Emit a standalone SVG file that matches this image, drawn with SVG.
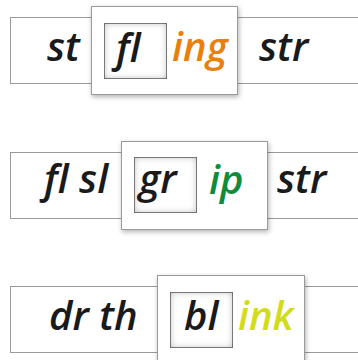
<svg xmlns="http://www.w3.org/2000/svg" width="358" height="360" viewBox="0 0 358 360">
<defs>
<style>
.strip{fill:#fff;stroke:#9a9a9a;stroke-width:1}
.card{fill:#fff;stroke:#9a9a9a;stroke-width:1;filter:url(#drop)}
.slot{fill:#fff;stroke:#8c8c8c;stroke-width:1;filter:url(#inset)}
text{font-family:"Open Sans","DejaVu Sans",sans-serif;font-style:italic;font-weight:600;font-size:40px;fill:#1a1a1a}
.orange{fill:#e8800e}
.green{fill:#0e8c3c}
.lime{fill:#d3dc1a}
</style>
<filter id="drop" x="-10%" y="-10%" width="125%" height="130%">
<feDropShadow dx="1" dy="2" stdDeviation="2.5" flood-color="#000" flood-opacity="0.3"/>
</filter>
<filter id="inset" x="-20%" y="-20%" width="140%" height="140%">
<feFlood flood-color="#000" flood-opacity="0.6" result="f"/>
<feComposite in="f" in2="SourceAlpha" operator="out" result="o"/>
<feGaussianBlur in="o" stdDeviation="3.5" result="b"/>
<feComposite in="b" in2="SourceAlpha" operator="in" result="s"/>
<feMerge><feMergeNode in="SourceGraphic"/><feMergeNode in="s"/></feMerge>
</filter>
</defs>
<g id="row1">
<rect class="strip" x="10.5" y="17.5" width="360" height="66"/>
<text x="47" y="61">st</text>
<text x="259" y="61">str</text>
<rect class="card" x="91.5" y="6.5" width="146" height="88"/>
<rect class="slot" x="104.5" y="23.5" width="62" height="55"/>
<text x="116" y="62">fl</text>
<text class="orange" x="172" y="61">ing</text>
</g>
<g id="row2">
<rect class="strip" x="10.5" y="152.5" width="360" height="66"/>
<text x="44" y="193">fl sl</text>
<text x="277" y="193">str</text>
<rect class="card" x="121.5" y="141.5" width="146" height="88"/>
<rect class="slot" x="134.5" y="157.5" width="62" height="55"/>
<text x="139" y="193">gr</text>
<text class="green" x="209" y="194">ip</text>
</g>
<g id="row3">
<rect class="strip" x="10.5" y="286.5" width="360" height="66"/>
<text x="49" y="330">dr th</text>
<rect class="card" x="157.5" y="275.5" width="147" height="100"/>
<rect class="slot" x="170.5" y="292.5" width="62" height="55"/>
<text x="184" y="330">bl</text>
<text class="lime" x="238" y="330">ink</text>
</g>
<g id="connectors"/>
</svg>
